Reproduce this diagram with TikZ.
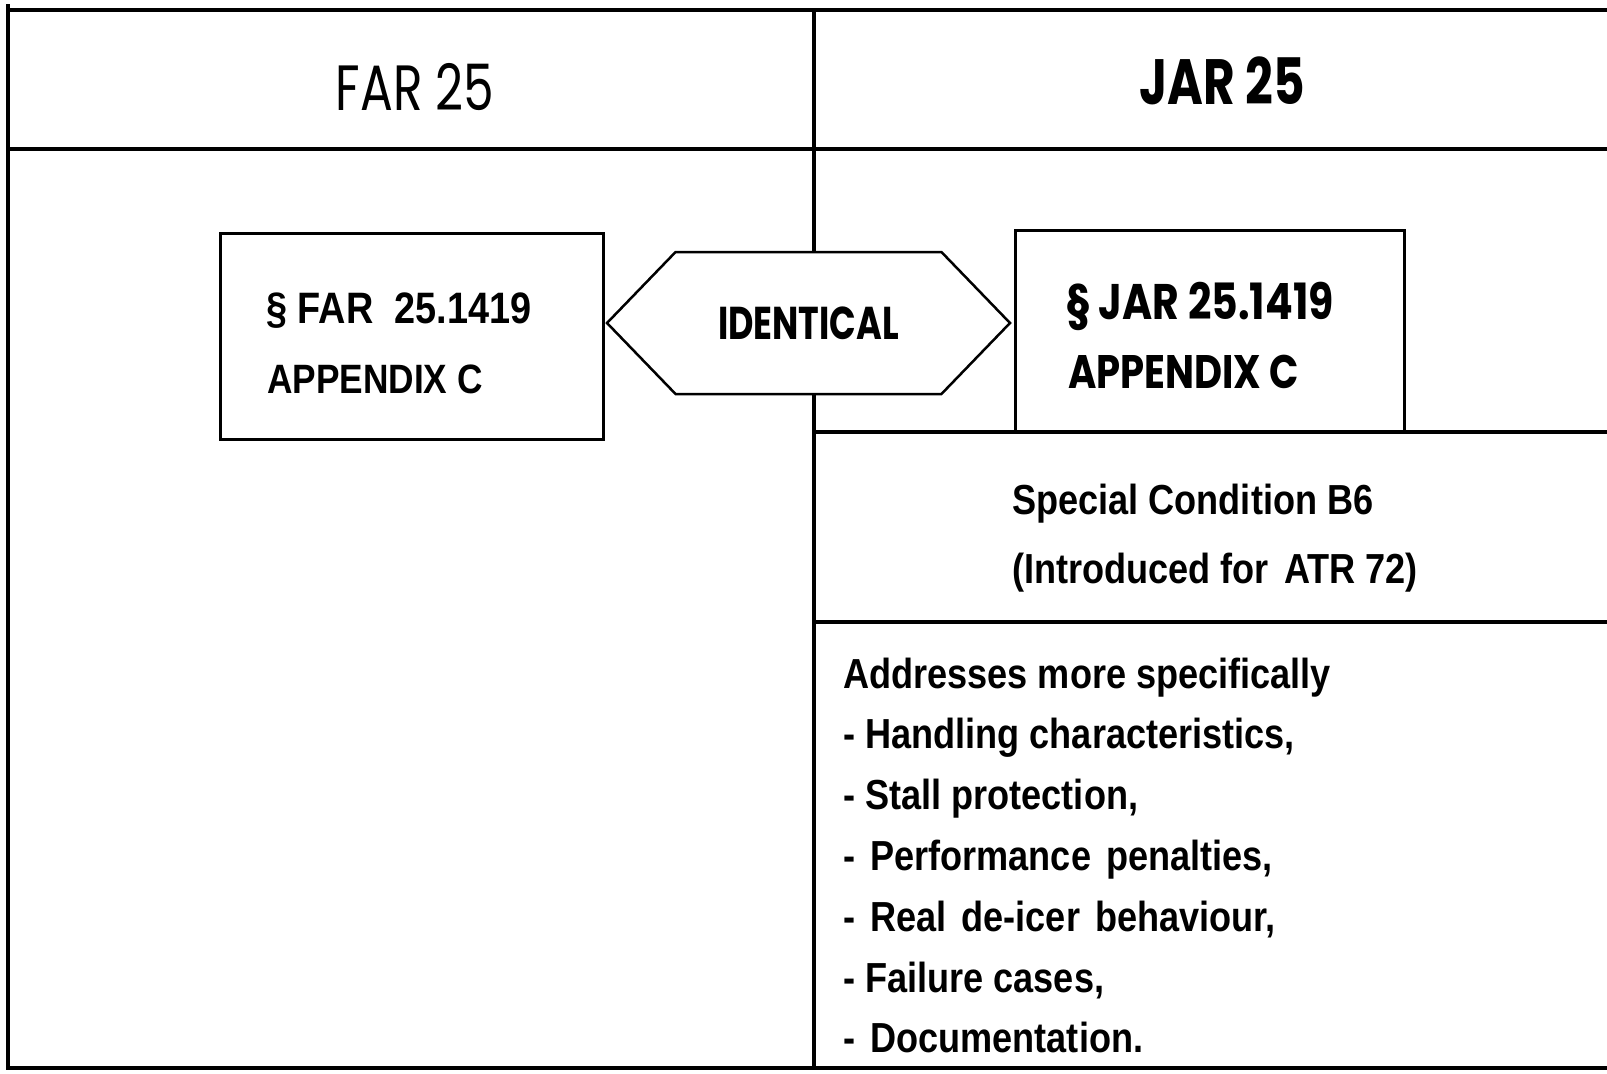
\documentclass[tikz,border=0pt]{standalone}
\usepackage{fontspec}
\usepackage{tikz}
\usetikzlibrary{positioning, shapes.symbols}
\setmainfont{Liberation Sans}
\newfontfamily\futfont[FakeStretch=0.76]{Poppins}
\newfontfamily\futmedfont[FakeStretch=0.82]{Poppins}
\newfontfamily\narrowfont[FakeStretch=0.86]{Liberation Sans}
\newcommand{\pxsize}[1]{\fontsize{#1}{#1}\selectfont}
\newcommand{\gap}{\ \hspace{0.12em}}

\tikzset{
  rule/.style = {line width=4pt},
  rulebox/.style = {draw, line width=3pt, inner sep=0pt, outer sep=0pt},
  label/.style = {inner sep=0pt, anchor=base west},
  item/.style = {label, font=\narrowfont\bfseries\pxsize{42}}
}

\begin{document}
\begin{tikzpicture}[x=1pt, y=-1pt]
 \useasboundingbox (0,0) rectangle (1607,1074);
 \draw[rule] (6,10) -- (1607,10);
 \draw[rule] (8,4) -- (8,1068);
 \draw[rule] (6,1068) -- (1607,1068);
 \draw[rule] (8,149) -- (1607,149);
 \draw[rule] (814,10) -- (814,1068);
 \draw[rule] (814,432) -- (1607,432);
 \draw[rule] (814,622) -- (1607,622);

 \node[inner sep=0pt, anchor=base, font=\futfont\pxsize{64}] (far) at (415,110) {FAR 25};
 \node[inner sep=0pt, anchor=base, font=\futfont\bfseries\pxsize{64}] (jar) at (1222,104) {JAR 25};

 \node[rulebox, minimum width=383, minimum height=206] (farbox) at (411.5,336) {};
 \node[rulebox, minimum width=389, minimum height=202] (jarbox) at (1209.5,331) {};
 \node[draw, fill=white, line width=2.5pt, shape=signal, signal to=east and west,
       signal pointer angle=92, minimum width=403, minimum height=142, inner sep=0pt,
       font=\futfont\bfseries\pxsize{46}] (same) at (808.5,323) {IDENTICAL};

 \node[label, font=\narrowfont\bfseries\pxsize{44}] (farpar) at (266,323) {\S\ FAR\ \ 25.1419};
 \node[label, font=\narrowfont\bfseries\pxsize{41}] (farapp) at (267,393) {APPENDIX\ C};
 \node[label, font=\futmedfont\bfseries\pxsize{50}] (jarpar) at (1066,319) {\S\ JAR 25.1419};
 \node[label, font=\futmedfont\bfseries\pxsize{47}] (jarapp) at (1068,388) {APPENDIX C};

 \node[item] (cond) at (1012,514) {Special Condition B6};
 \node[item] (atr) at (1012,583) {(Introduced for\gap ATR 72)};

 \foreach \txt [count=\i from 0] in {{Addresses more specifically},
   {- Handling characteristics,}, {- Stall protection,}, {-\gap Performance\gap penalties,},
   {-\gap Real\gap de-icer\gap behaviour,}, {- Failure cases,}, {-\gap Documentation.}}
   \node[item] (line\i) at (843,688+60.8*\i) {\txt};
\end{tikzpicture}
\end{document}
